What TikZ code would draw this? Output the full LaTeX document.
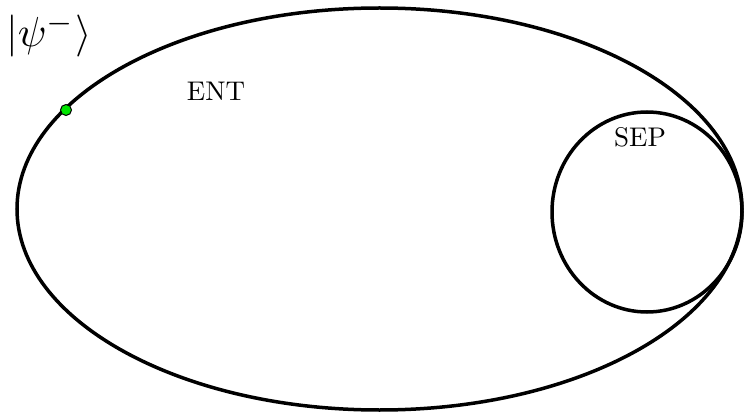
\documentclass[tikz,border=0pt]{standalone}
\begin{document}
\begin{tikzpicture}[x=1pt,y=-1pt,
  setline/.style={line width=3.5pt},
  lbl/.style={inner sep=0pt}]
\useasboundingbox (0,0) rectangle (744,414);
\draw[setline] (379.5,209) ellipse [x radius=362.5, y radius=201];
\draw[setline] (647,212) ellipse [x radius=95, y radius=100];
\node[draw=black, fill=green!90!black, circle, inner sep=0pt, minimum size=11pt, line width=1pt] (psi) at (66,110) {};
\node[inner sep=0pt, anchor=west] (ket) at (6,35) {\scalebox{4.2}{$\left|\psi^-\right\rangle$}};
\node[lbl] (ent) at (216,91) {\scalebox{2.7}{ENT}};
\node[lbl] (sep) at (640,137) {\scalebox{2.7}{SEP}};
\end{tikzpicture}
\end{document}
